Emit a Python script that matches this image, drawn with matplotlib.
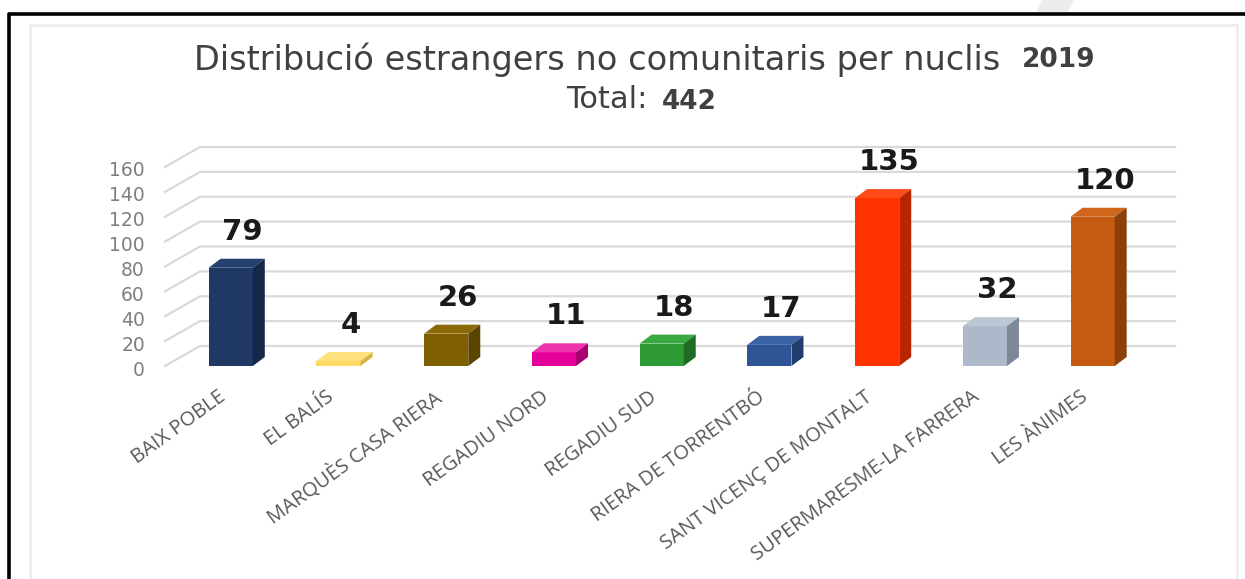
import matplotlib
matplotlib.use("Agg")
import matplotlib.pyplot as plt
from matplotlib.patches import Polygon, Rectangle
import numpy as np

# ---- data ----
categories = ["BAIX POBLE", "EL BALÍS", "MARQUÈS CASA RIERA", "REGADIU NORD",
              "REGADIU SUD", "RIERA DE TORRENTBÓ", "SANT VICENÇ DE MONTALT",
              "SUPERMARESME-LA FARRERA", "LES ÀNIMES"]
values = [79, 4, 26, 11, 18, 17, 135, 32, 120]
yticks = [0, 20, 40, 60, 80, 100, 120, 140, 160]
title_main = "Distribució estrangers no comunitaris per nuclis"
title_year = "2019"
total_label = "Total: "
total_value = "442"

front_colors = ["#1f3864", "#ffd966", "#7f6000", "#e6009b", "#2e9b35",
                "#2f5597", "#ff3300", "#adb9ca", "#c55a11"]
top_colors = ["#25406f", "#ffe27f", "#8a6a08", "#ee33ad", "#3aa841",
              "#3a62a6", "#ff4a1a", "#bcc6d4", "#d0661c"]
side_colors = ["#15284a", "#d9b444", "#5a4400", "#a8006f", "#1f6d25",
               "#1f3c6e", "#b82500", "#7d8898", "#8c3f0b"]

W, H, DPI = 1245, 579, 100
fig = plt.figure(figsize=(W / DPI, H / DPI), dpi=DPI)
fig.patch.set_facecolor("white")

# frame lines (black) and inner light panel
bg = fig.add_axes([0, 0, 1, 1])
bg.set_xlim(0, W)
bg.set_ylim(H, 0)
bg.axis("off")
bg.add_patch(Polygon([(1042, 0), (1074, 0), (1068, 12), (1036, 12)],
                     closed=True, facecolor="#ececec", edgecolor="none"))
bg.plot([8, W], [13.5, 13.5], color="black", lw=2.6, solid_capstyle="butt")
bg.plot([8.5, 8.5], [13, H], color="black", lw=2.6, solid_capstyle="butt")
bg.add_patch(Rectangle((29.5, 25), 1207, 600, facecolor="none",
                       edgecolor="#ededed", lw=2))

# title
bg.text(1000, 60, title_main, ha="right", va="center", fontsize=24.2,
        family="DejaVu Sans", color="#404040")
bg.text(1022, 60, title_year, ha="left", va="center", fontsize=19,
        family="DejaVu Sans", fontweight="bold", color="#404040")
bg.text(657, 100, total_label, ha="right", va="center", fontsize=22,
        family="DejaVu Sans", color="#404040")
bg.text(662, 102, total_value, ha="left", va="center", fontsize=19,
        family="DejaVu Sans", fontweight="bold", color="#404040")

# main axes (front plane)
x0, x1 = 165, 1140
ytop, ybot = 167, 366
ax = fig.add_axes([x0 / W, (H - ybot) / H, (x1 - x0) / W, (ybot - ytop) / H])
ax.set_xlim(-0.61, 8.44)
ax.set_ylim(0, 160)
ax.axis("off")
ax.patch.set_alpha(0)

fig.canvas.draw()
inv = ax.transData.inverted()
def px_to_data(dx, dy):
    p0 = inv.transform((0, 0))
    p1 = inv.transform((dx, dy))
    return p1[0] - p0[0], p1[1] - p0[1]

# back wall gridlines + perspective diagonals
gox, goy = px_to_data(35, 20)
xmin, xmax = ax.get_xlim()
for v in yticks:
    ax.plot([xmin, xmin + gox, xmax + gox], [v, v + goy, v + goy],
            color="#d9d9d9", lw=1.6, zorder=1, clip_on=False,
            solid_joinstyle="miter")
    ax.annotate(str(v), xy=(xmin, v), xytext=(-20, -4),
                textcoords="offset pixels", ha="right", va="center",
                fontsize=13.5, family="DejaVu Sans", color="#7f7f7f",
                annotation_clip=False)

# 3D bars
bw = 0.41
ddx, ddy = px_to_data(12, 9)
xs = np.arange(len(categories))
ax.bar(xs, values, width=bw, color=front_colors, zorder=3, linewidth=0)
for i, v in enumerate(values):
    l, r = xs[i] - bw / 2, xs[i] + bw / 2
    ax.add_patch(Polygon([(l, v), (r, v), (r + ddx, v + ddy), (l + ddx, v + ddy)],
                         closed=True, facecolor=top_colors[i], edgecolor="none",
                         zorder=3, clip_on=False))
    ax.add_patch(Polygon([(r, 0), (r + ddx, ddy), (r + ddx, v + ddy), (r, v)],
                         closed=True, facecolor=side_colors[i], edgecolor="none",
                         zorder=3, clip_on=False))
    ax.annotate(str(v), xy=(xs[i], v), xytext=(12, 36),
                textcoords="offset pixels", ha="center", va="center",
                fontsize=21, family="DejaVu Sans", fontweight="bold",
                color="#1a1a1a", annotation_clip=False, zorder=5)
    ax.annotate(categories[i], xy=(xs[i], 0), xytext=(-13, -21),
                textcoords="offset pixels", ha="right", va="top",
                rotation=36, rotation_mode="anchor", fontsize=14.5,
                family="Open Sans", color="#595959", annotation_clip=False)

fig.savefig("out.png", dpi=DPI, facecolor="white")
